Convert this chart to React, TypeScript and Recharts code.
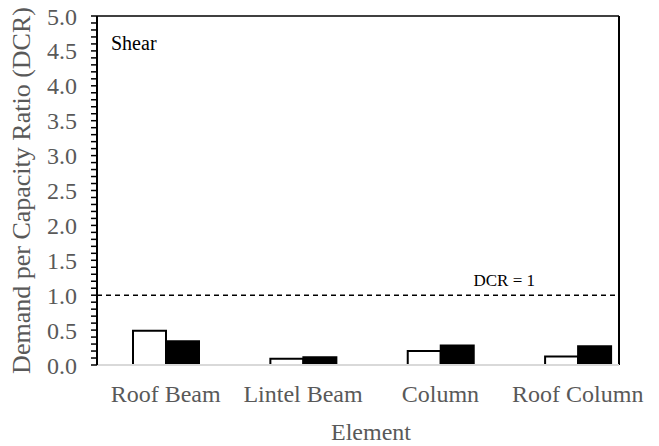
import React from 'react';
import { BarChart, Bar, XAxis, YAxis, ReferenceLine } from 'recharts';

const CATEGORIES = ['Roof Beam', 'Lintel Beam', 'Column', 'Roof Column'];
const CATEGORY_POS = [0.5, 1.5, 2.5, 3.5];
const WHITE_SERIES = [0.49, 0.09, 0.2, 0.12];
const BLACK_SERIES = [0.34, 0.11, 0.28, 0.27];
const Y_MAJOR = [0, 0.5, 1, 1.5, 2, 2.5, 3, 3.5, 4, 4.5, 5];
const DCR_LIMIT = 1;
const X_END = 3.8;

// minor ticks every 0.1 between the labelled majors
const Y_MINOR = Array.from({ length: 51 }, (_, i) => i / 10);

const FONT = "'Liberation Serif', 'Times New Roman', serif";
const GREY = '#595959';

const data = CATEGORIES.map((name, i) => ({
  pos: CATEGORY_POS[i],
  name,
  white: WHITE_SERIES[i],
  black: BLACK_SERIES[i],
}));

const yLabel = (v: number) =>
  Y_MAJOR.some((m) => Math.abs(m - v) < 1e-6) ? v.toFixed(1) : '';

const xLabel = (v: number) => {
  const i = CATEGORY_POS.indexOf(v);
  return i >= 0 ? CATEGORIES[i] : '';
};

export default function App() {
  return (
    <div
      style={{ position: 'absolute', left: 0, top: 0, background: '#fff', fontFamily: FONT }}
    >
      <style>{`.recharts-wrapper text, .recharts-wrapper tspan { font-family: ${FONT} !important; }`}</style>
      <BarChart
        width={659}
        height={446}
        data={data}
        margin={{ top: 16, right: 40, bottom: 0, left: 0 }}
        barGap={0}
        barSize={33}
      >
        <XAxis
          dataKey="pos"
          type="number"
          domain={[0, X_END]}
          ticks={CATEGORY_POS}
          tickFormatter={xLabel}
          interval={0}
          height={81}
          tickSize={0}
          tickMargin={20}
          tickLine={false}
          axisLine={{ stroke: '#d9d9d9', strokeWidth: 2 }}
          tick={{ fill: GREY, fontSize: 24 }}
          label={{
            value: 'Element',
            position: 'center',
            dx: 13,
            dy: 26,
            fill: GREY,
            fontSize: 24,
          }}
        />
        <YAxis
          type="number"
          domain={[0, 5]}
          ticks={Y_MINOR}
          interval={0}
          tickFormatter={yLabel}
          width={97}
          tickSize={6}
          tickMargin={14}
          axisLine={{ stroke: '#000', strokeWidth: 2 }}
          tickLine={{ stroke: '#000', strokeWidth: 1.5 }}
          tick={{ fill: GREY, fontSize: 24 }}
          label={{
            value: 'Demand per Capacity Ratio (DCR)',
            angle: -90,
            position: 'center',
            dx: -28,
            fill: GREY,
            fontSize: 26,
          }}
        />
        <Bar
          dataKey="white"
          fill="#fff"
          stroke="#000"
          strokeWidth={2}
          isAnimationActive={false}
        />
        <Bar
          dataKey="black"
          fill="#000"
          stroke="#000"
          strokeWidth={2}
          isAnimationActive={false}
        />
        <ReferenceLine
          y={DCR_LIMIT}
          stroke="#000"
          strokeWidth={1.5}
          strokeDasharray="5 4"
          label={{
            value: 'DCR = 1',
            position: 'insideBottomRight',
            dx: -79,
            dy: -4,
            fill: '#000',
            fontSize: 17,
          }}
        />
        <ReferenceLine
          y={5}
          stroke="#000"
          strokeWidth={1.5}
          label={{
            value: 'Shear',
            position: 'insideTopLeft',
            dx: 9,
            dy: 15,
            fill: '#000',
            fontSize: 20,
          }}
        />
        <ReferenceLine x={X_END} stroke="#000" strokeWidth={2} />
      </BarChart>
    </div>
  );
}
